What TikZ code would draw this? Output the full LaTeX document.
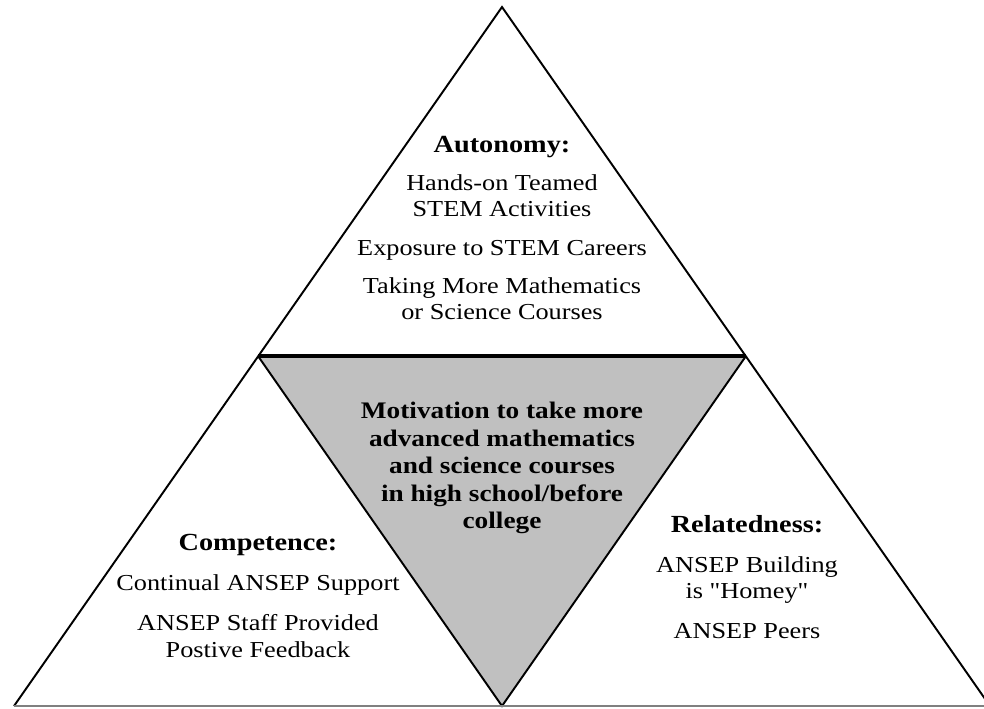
\documentclass[tikz,border=0pt]{standalone}
\usepackage{fontspec}
\setmainfont{Liberation Serif}[FakeStretch=1.15,Ligatures=TeXOff]
\definecolor{midgray}{RGB}{192,192,192}
\newcommand{\headline}[1]{{\fontsize{14}{15.2}\selectfont\bfseries #1}}

\begin{document}
\begin{tikzpicture}[x=0.02cm,y=-0.02cm,
  every node/.style={align=center,inner sep=0pt,font=\fontsize{13}{15.2}\selectfont},
  side/.style={line width=1.1pt}]
\useasboundingbox (0,0) rectangle (984,708);
\coordinate (top)   at (502,7);
\coordinate (left)  at (14,706);
\coordinate (right) at (990,706);
\coordinate (ml)    at (258,356);
\coordinate (mr)    at (746,356);
\coordinate (mb)    at (502,706);
\fill[midgray]             (ml) -- (mr) -- (mb) -- cycle;
\draw[side]                (left) -- (top) -- (right);
\draw[side]                (ml) -- (mb) -- (mr);
\draw[line width=1.8pt]    (ml) -- (mr);
\draw[side, gray]          (left) -- (right);
\node (auto) at (502,228) {\headline{Autonomy:}\\[6.5pt]
  Hands-on Teamed\\ STEM Activities\\[6.5pt]
  Exposure to STEM Careers\\[6.5pt]
  Taking More Mathematics\\ or Science Courses};
\node[font=\fontsize{13.5}{15.7}\selectfont\bfseries] (moti) at (502,468)
  {Motivation to take more\\ advanced mathematics\\ and science courses\\
   in high school/before\\ college};
\node (comp) at (258,596) {\headline{Competence:}\\[7.5pt]
  Continual ANSEP Support\\[7.5pt]
  ANSEP Staff Provided\\ Postive Feedback};
\node (rela) at (747,577) {\headline{Relatedness:}\\[7.5pt]
  ANSEP Building\\ is "Homey"\\[7.5pt]
  ANSEP Peers};
\end{tikzpicture}
\end{document}
